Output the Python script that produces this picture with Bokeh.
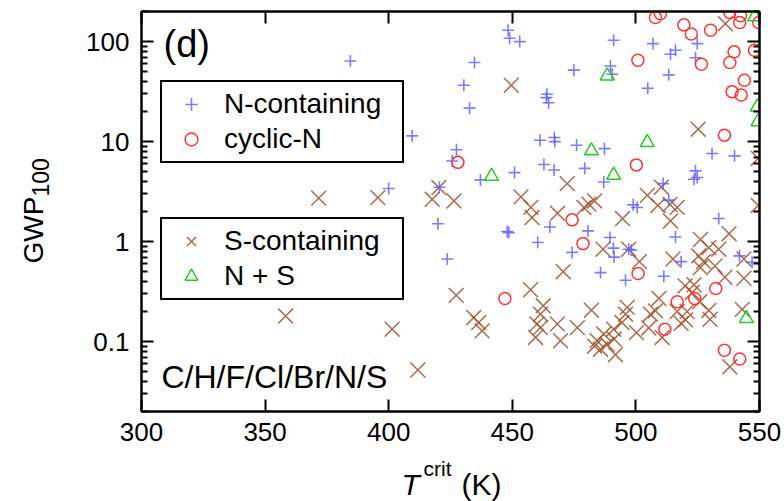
import numpy as np
from bokeh.plotting import figure
from bokeh.layouts import row, column
from bokeh.models import (FixedTicker, LinearAxis, LogAxis, Legend, LegendItem,
                          Label, CustomJSTickFormatter, Range1d)
from bokeh.embed import file_html
from bokeh.resources import INLINE

# ---------------- data ----------------
n_x = [384.5, 409.5, 427.4, 400.0, 420.5, 419.9, 448.3, 448.9, 453.0, 434.7,
       430.4, 432.7, 474.9, 464.0, 463.8, 464.7, 461.2, 467.0, 467.2, 476.0,
       487.3, 425.7, 462.8, 466.9, 479.3, 450.9, 491.0, 506.9, 514.0, 516.0,
       524.8, 524.1, 513.3, 504.8, 489.7, 490.4, 530.8, 539.9, 524.1, 524.8,
       523.5, 511.0, 513.3, 498.9, 500.5, 533.5, 487.0, 437.1, 447.9, 448.6,
       465.2, 480.6, 460.3, 474.2, 489.5, 490.9, 491.2, 497.1, 498.1, 516.0,
       518.3, 485.7, 495.8, 511.3, 423.7, 541.9, 547.0]
n_y = [64, 11.4, 8.3, 3.4, 3.5, 1.51, 130, 108, 100, 61.7,
       36.6, 21.6, 51.8, 29.8, 27.5, 24.5, 10.3, 11.0, 10.0, 9.2,
       8.5, 6.4, 5.9, 5.2, 5.4, 4.9, 103, 95.5, 74.8, 82,
       95.5, 69, 46.5, 34.2, 57, 47.2, 7.6, 7.2, 5.1, 4.37,
       4.2, 3.8, 2.6, 2.33, 2.19, 1.7, 3.95, 4.14, 1.26, 1.23,
       1.40, 1.28, 0.98, 0.78, 1.1, 0.86, 0.70, 0.84, 0.82, 1.11,
       0.63, 0.49, 0.41, 0.45, 0.67, 0.72, 0.62]

cn_x = [507.9, 509.9, 519.4, 522.4, 530.2, 538.0, 542.3, 542.0, 549.7, 548.0,
        539.7, 538.0, 526.5, 500.8, 543.9, 538.9, 542.6, 535.8, 500.2, 428.0,
        474.2, 478.6, 500.9, 447.0, 516.7, 523.8, 532.3, 511.7, 535.8, 542.0]
cn_y = [174, 190, 147, 119, 130, 195, 181, 155, 155, 82,
        79, 61.7, 59.4, 65, 41, 31.6, 29.3, 11.6, 5.85, 6.2,
        1.65, 0.955, 0.48, 0.27, 0.25, 0.27, 0.34, 0.133, 0.082, 0.067]

s_x = [371.7, 395.6, 417.6, 420.3, 426.4, 358.3, 401.4, 411.8, 427.3, 449.6,
       536.2, 525.2, 549.5, 472.2, 453.5, 457.5, 458.0, 468.3, 479.0, 481.0,
       483.3, 504.6, 510.3, 508.9, 513.8, 514.0, 516.7, 549.5, 494.6, 470.6,
       486.7, 497.1, 501.4, 515.0, 526.1, 525.4, 527.4, 526.1, 529.5, 533.5,
       532.0, 536.0, 537.7, 543.7, 543.7, 457.4, 434.4, 436.4, 437.8, 462.5,
       461.4, 460.0, 461.4, 459.4, 468.2, 469.5, 476.3, 482.0, 484.3, 487.0,
       488.4, 483.3, 485.7, 491.0, 491.2, 491.7, 496.5, 495.8, 494.4, 500.2,
       505.9, 507.9, 509.3, 510.6, 505.2, 516.7, 520.7, 520.1, 518.3, 519.9,
       523.5, 522.8, 525.8, 529.5, 530.0, 543.0, 538.0]
s_y = [2.72, 2.75, 2.65, 3.47, 2.55, 0.18, 0.133, 0.052, 0.29, 36.6,
       151, 13.3, 6.8, 3.8, 2.8, 2.2, 1.74, 1.92, 2.19, 2.37,
       2.55, 2.9, 3.5, 2.3, 2.35, 1.61, 2.2, 2.3, 1.7, 0.5,
       0.84, 0.84, 0.63, 0.67, 1.05, 0.72, 0.63, 0.55, 0.87, 0.84,
       0.57, 0.44, 1.2, 0.67, 0.43, 0.33, 0.174, 0.155, 0.128, 0.228,
       0.188, 0.15, 0.138, 0.11, 0.15, 0.102, 0.138, 0.206, 0.102, 0.119,
       0.094, 0.09, 0.084, 0.133, 0.106, 0.074, 0.22, 0.188, 0.155, 0.123,
       0.188, 0.203, 0.27, 0.11, 0.137, 0.2, 0.2, 0.165, 0.152, 0.36,
       0.37, 0.31, 0.25, 0.205, 0.167, 0.21, 0.056]

ns_x = [548.0, 549.1, 549.4, 504.6, 482.0, 488.4, 491.0, 441.6, 544.7]
ns_y = [177, 22.2, 15.8, 9.8, 8.1, 45.4, 4.6, 4.5, 0.17]

x_ticks = [300, 350, 400, 450, 500, 550]
y_ticks = [0.1, 1, 10, 100]
y_minor = [m * 10.0 ** k for k in range(-2, 3) for m in range(2, 10) if 0.02 <= m * 10.0 ** k <= 200]

# ---------------- geometry (page pixels) ----------------
FONT = "Liberation Sans"
X0, X1, Y0, Y1 = 300, 550, 0.02, 200
FL, FT, FW, FH = 141, 11, 618, 400        # frame left/top/width/height on the page
WL = 70                                     # width of the left text strip
HM = 457                                    # height of the main row
TOTAL_W, TOTAL_H = 784, 501
MID = 0.347                                 # baseline -> em-box middle, in font sizes

p = figure(x_range=Range1d(X0, X1), y_range=Range1d(Y0, Y1), y_axis_type="log",
           frame_width=FW, frame_height=FH, min_border_left=FL - WL,
           min_border_right=TOTAL_W - FL - FW, min_border_top=FT,
           min_border_bottom=HM - FT - FH,
           output_backend="svg", toolbar_location=None)
p.grid.visible = False
p.outline_line_color = "black"
p.outline_line_width = 2
p.background_fill_color = "white"
p.border_fill_color = "white"


def style(ax, show=True):
    ax.axis_line_color = "black"
    ax.axis_line_width = 2
    ax.major_tick_in = 12
    ax.major_tick_out = 0
    ax.major_tick_line_width = 2
    ax.minor_tick_in = 6
    ax.minor_tick_out = 0
    ax.minor_tick_line_width = 2
    ax.axis_label_standoff = 0
    ax.major_label_text_font = FONT
    ax.major_label_text_color = "black"
    if show:
        ax.major_label_text_font_size = "26px"
    else:
        ax.major_label_text_font_size = "0px"
        ax.major_label_standoff = 0
        ax.formatter = CustomJSTickFormatter(code="return ''")


p.xaxis.ticker = FixedTicker(ticks=x_ticks, minor_ticks=[])
p.yaxis.ticker = FixedTicker(ticks=y_ticks, minor_ticks=y_minor)
p.yaxis.formatter = CustomJSTickFormatter(code="return String(tick)")
style(p.xaxis[0])
style(p.yaxis[0])
p.xaxis.major_label_standoff = 11
p.yaxis.major_label_standoff = 12

top_ax = LinearAxis(ticker=FixedTicker(ticks=x_ticks, minor_ticks=[]))
style(top_ax, show=False)
p.add_layout(top_ax, "above")
right_ax = LogAxis(ticker=FixedTicker(ticks=y_ticks, minor_ticks=y_minor))
style(right_ax, show=False)
p.add_layout(right_ax, "right")

# ---------------- markers ----------------
r_s = p.scatter(s_x, s_y, marker="x", size=21, line_color="#a0522d", line_width=1.5, line_alpha=0.85)
r_n = p.scatter(n_x, n_y, marker="cross", size=12, line_color="#5a5aff", line_width=1.6, line_alpha=0.8)
r_cn = p.scatter(cn_x, cn_y, marker="circle", size=12, fill_color=None, line_color="#ff3333", line_width=1.5)
r_ns = p.scatter(ns_x, ns_y, marker="triangle", size=14, fill_color=None, line_color="#22cc22", line_width=1.5)


def legend(items, loc):
    lg = Legend(items=items, location=loc, orientation="vertical",
                label_text_font=FONT, label_text_font_size="28px", label_text_color="black",
                glyph_width=46, glyph_height=32, label_height=32, label_width=172,
                label_standoff=10, padding=6, spacing=3, margin=0,
                border_line_color="black", border_line_width=2, border_line_alpha=1.0,
                background_fill_color="white", background_fill_alpha=1.0)
    p.add_layout(lg, "center")


legend([LegendItem(label="N-containing", renderers=[r_n]),
        LegendItem(label="cyclic-N", renderers=[r_cn])], (19, 248))
legend([LegendItem(label="S-containing", renderers=[r_s]),
        LegendItem(label="N + S", renderers=[r_ns])], (19, 111))


def px2x(px):
    return X0 + (px - FL) * (X1 - X0) / FW


def py2y(py):
    return 10 ** (np.log10(Y1) - (py - FT) * (np.log10(Y1) - np.log10(Y0)) / FH)


def add_text(fig, text, x, y, size, angle=0.0, style="normal"):
    fig.add_layout(Label(x=x, y=y, text=text, text_font=FONT, text_font_size=f"{size}px",
                         text_font_style=style, text_color="black", text_align="left",
                         text_baseline="middle", angle=angle))


# baseline positions in page pixels, converted to the em-box middle
add_text(p, "(d)", px2x(163), py2y(57 - MID * 38), 38)
add_text(p, "C/H/F/Cl/Br/N/S", px2x(161), py2y(388 - MID * 32), 32)


# ---------------- text strips (left: y title, bottom: x title) ----------------
def strip(w, h):
    f = figure(x_range=Range1d(0, w), y_range=Range1d(0, h), frame_width=w, frame_height=h,
               min_border=0, x_axis_location=None, y_axis_location=None,
               output_backend="svg", toolbar_location=None)
    f.grid.visible = False
    f.outline_line_color = None
    f.background_fill_color = "white"
    f.border_fill_color = "white"
    return f


pl = strip(WL, HM)
add_text(pl, "GWP", 43 - MID * 28, HM - 252, 28, angle=np.pi / 2)
add_text(pl, "100", 48 - MID * 23, HM - 185, 23, angle=np.pi / 2)

HB = TOTAL_H - HM
pb = strip(TOTAL_W, HB)
add_text(pb, "T", 401, TOTAL_H - (494 - MID * 30), 30, style="italic")
add_text(pb, "crit", 423, TOTAL_H - (475 - MID * 21), 21)
add_text(pb, "(K)", 461, TOTAL_H - (494 - MID * 30), 30)

layout = column(row(pl, p, spacing=0), pb, spacing=0)
open("out.html", "w").write(file_html(layout, INLINE))
